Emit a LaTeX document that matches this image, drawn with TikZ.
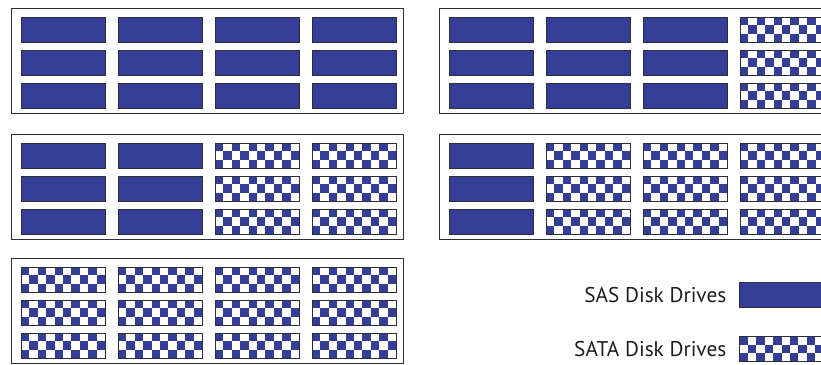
\documentclass[tikz,border=0pt]{standalone}
\usepackage{fontspec}
\setmainfont{PT Sans}
\usetikzlibrary{positioning}
\definecolor{sasblue}{RGB}{52,62,150}
\definecolor{edgegray}{RGB}{45,45,55}
\definecolor{lbltext}{RGB}{30,30,30}

\begin{document}
\begin{tikzpicture}[x=1pt, y=-1pt,
  rack/.style={draw=edgegray, line width=1.3pt, minimum width=392pt, minimum height=105pt, anchor=north west, inner sep=0pt},
  drive/.style={draw=edgegray, line width=1pt, minimum width=84pt, minimum height=25pt, anchor=north west, inner sep=0pt},
  sas/.style={drive, fill=sasblue},
  sata/.style={drive, fill=white, path picture={
      \foreach \i in {0,...,9} \foreach \j in {0,1,2} {
        \pgfmathtruncatemacro\odd{mod(\i+\j,2)}
        \ifnum\odd=0 \fill[sasblue] ([xshift=\i*8.4pt, yshift=-\j*8.34pt]path picture bounding box.north west) rectangle ++(8.4pt,-8.34pt); \fi
      }}},
  lbl/.style={font=\fontsize{21.3}{25}\selectfont, text=lbltext, anchor=east, inner sep=0pt}]
\clip (0,0) rectangle (821,364);
% Enclosures: name/x/y/number of SAS columns
\foreach \name/\px/\py/\nsas in {topleft/11/8/4, topright/439/8/3, midleft/11/134/2, midright/439/134/1, botleft/11/258/0} {
  \node[rack] (\name) at (\px,\py) {};
  \foreach \c in {0,...,3} \foreach \r in {0,1,2} {
    \ifnum\c<\nsas \def\kind{sas}\else\def\kind{sata}\fi
    \node[\kind] (\name-\r-\c) at (\px+9.5+\c*97, \py+8.5+\r*33) {};
  }
}
% Legend
\node[sas] (sasswatch) at (739,282) {};
\node[sata] (sataswatch) at (739,336) {};
\node[lbl, left=12.5pt of sasswatch] (saslabel) {SAS Disk Drives};
\node[lbl, left=12.5pt of sataswatch] (satalabel) {SATA Disk Drives};
\end{tikzpicture}
\end{document}
